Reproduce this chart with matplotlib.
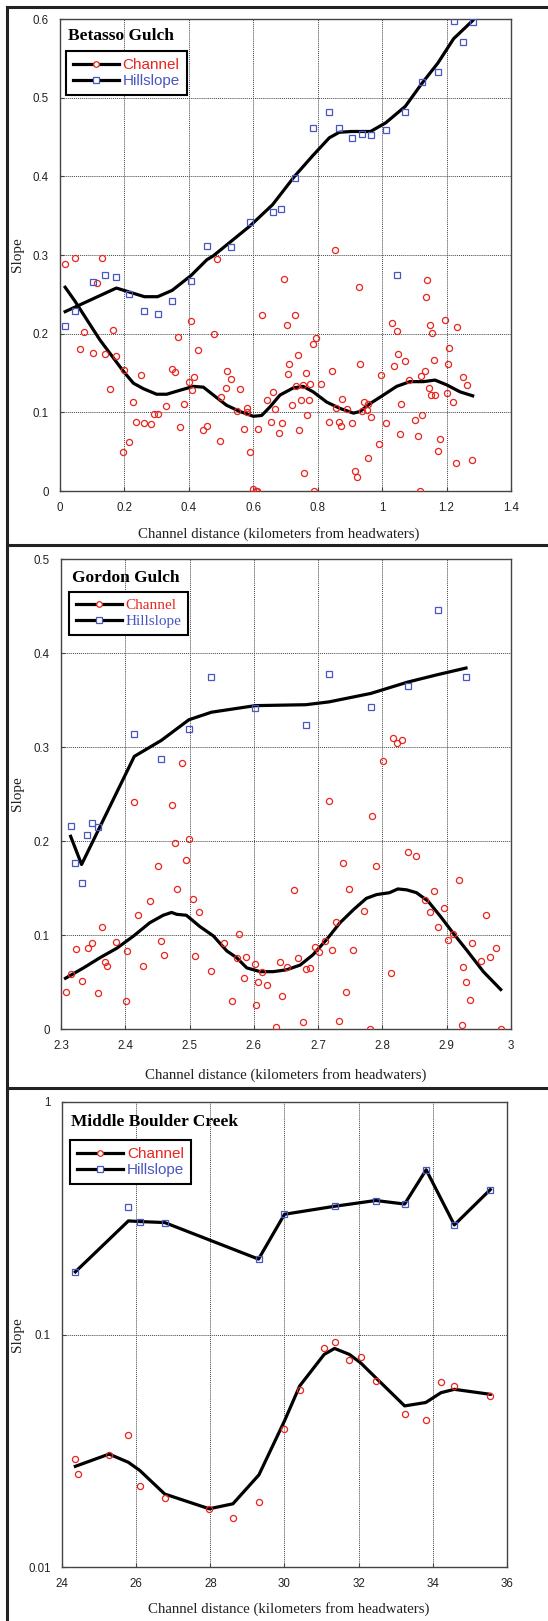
import matplotlib
matplotlib.use("Agg")
import matplotlib.pyplot as plt
import numpy as np
from matplotlib.lines import Line2D
from matplotlib.ticker import FixedLocator, NullLocator, FuncFormatter

# ---- Betasso Gulch ----
bg_hill_x = [0.016, 0.047, 0.102, 0.141, 0.175, 0.214, 0.262, 0.303, 0.348, 0.407,
             0.456, 0.532, 0.590, 0.660, 0.687, 0.728, 0.784, 0.836, 0.867, 0.905,
             0.938, 0.964, 1.011, 1.047, 1.072, 1.125, 1.173, 1.222, 1.251, 1.281]
bg_hill_y = [0.210, 0.229, 0.266, 0.275, 0.272, 0.251, 0.229, 0.225, 0.241, 0.267,
             0.311, 0.310, 0.342, 0.355, 0.358, 0.398, 0.461, 0.482, 0.461, 0.449,
             0.454, 0.453, 0.459, 0.275, 0.482, 0.520, 0.533, 0.598, 0.571, 0.596]
bg_hill_fit_x = [0.016, 0.175, 0.262, 0.303, 0.348, 0.407, 0.456, 0.476, 0.590, 0.660,
                 0.728, 0.784, 0.836, 0.867, 0.905, 0.964, 1.011, 1.072, 1.125, 1.173,
                 1.222, 1.281]
bg_hill_fit_y = [0.228, 0.258, 0.247, 0.247, 0.255, 0.274, 0.294, 0.299, 0.337, 0.364,
                 0.400, 0.426, 0.449, 0.456, 0.457, 0.457, 0.468, 0.489, 0.519, 0.544,
                 0.575, 0.598]
bg_chan_x = [0.016, 0.047, 0.129, 0.076, 0.116, 0.061, 0.102, 0.141, 0.166, 0.175,
             0.155, 0.199, 0.195, 0.214, 0.226, 0.236, 0.252, 0.262, 0.282, 0.293,
             0.303, 0.328, 0.348, 0.357, 0.365, 0.374, 0.384, 0.400, 0.407, 0.411,
             0.415, 0.428, 0.445, 0.456, 0.479, 0.486, 0.496, 0.499, 0.515, 0.519,
             0.532, 0.548, 0.559, 0.571, 0.580, 0.580, 0.591, 0.599, 0.608, 0.612,
             0.615, 0.627, 0.642, 0.654, 0.662, 0.666, 0.681, 0.688, 0.695, 0.705,
             0.708, 0.712, 0.720, 0.728, 0.733, 0.739, 0.742, 0.748, 0.753, 0.757,
             0.763, 0.768, 0.774, 0.776, 0.784, 0.789, 0.795, 0.809, 0.836, 0.843,
             0.853, 0.858, 0.867, 0.871, 0.876, 0.890, 0.905, 0.915, 0.923, 0.928,
             0.931, 0.936, 0.945, 0.952, 0.955, 0.957, 0.964, 0.991, 0.995, 1.011,
             1.031, 1.037, 1.047, 1.050, 1.054, 1.057, 1.071, 1.082, 1.102, 1.110,
             1.117, 1.120, 1.124, 1.132, 1.138, 1.137, 1.146, 1.150, 1.155, 1.152,
             1.161, 1.165, 1.172, 1.179, 1.196, 1.200, 1.203, 1.207, 1.221, 1.229,
             1.233, 1.250, 1.263, 1.280]
bg_chan_y = [0.289, 0.296, 0.296, 0.202, 0.264, 0.181, 0.176, 0.174, 0.205, 0.171,
             0.130, 0.154, 0.050, 0.062, 0.113, 0.088, 0.147, 0.086, 0.085, 0.098,
             0.098, 0.108, 0.155, 0.151, 0.196, 0.081, 0.111, 0.138, 0.216, 0.129,
             0.145, 0.179, 0.077, 0.082, 0.200, 0.295, 0.063, 0.119, 0.131, 0.153,
             0.143, 0.102, 0.130, 0.079, 0.100, 0.106, 0.049, 0.002, 0.000, 0.000,
             0.079, 0.224, 0.116, 0.088, 0.126, 0.104, 0.074, 0.087, 0.269, 0.211,
             0.149, 0.162, 0.109, 0.224, 0.134, 0.173, 0.078, 0.116, 0.135, 0.023,
             0.150, 0.097, 0.116, 0.136, 0.187, 0.000, 0.194, 0.136, 0.088, 0.152,
             0.306, 0.106, 0.088, 0.082, 0.117, 0.104, 0.086, 0.025, 0.018, 0.259,
             0.162, 0.102, 0.113, 0.103, 0.042, 0.110, 0.094, 0.060, 0.147, 0.086,
             0.213, 0.159, 0.203, 0.174, 0.072, 0.111, 0.165, 0.141, 0.090, 0.070,
             0.000, 0.146, 0.096, 0.153, 0.268, 0.247, 0.131, 0.211, 0.201, 0.122,
             0.167, 0.122, 0.051, 0.066, 0.217, 0.124, 0.161, 0.182, 0.113, 0.036,
             0.209, 0.145, 0.135, 0.040]
bg_chan_fit_x = [0.016, 0.047, 0.083, 0.124, 0.166, 0.197, 0.228, 0.259, 0.300, 0.331,
                 0.372, 0.414, 0.445, 0.476, 0.517, 0.559, 0.600, 0.626, 0.652, 0.683,
                 0.724, 0.755, 0.786, 0.828, 0.869, 0.911, 0.931, 0.962, 1.004, 1.045,
                 1.086, 1.128, 1.164, 1.200, 1.242, 1.281]
bg_chan_fit_y = [0.259, 0.241, 0.218, 0.192, 0.169, 0.152, 0.137, 0.130, 0.123, 0.123,
                 0.128, 0.133, 0.132, 0.122, 0.109, 0.101, 0.095, 0.096, 0.107, 0.122,
                 0.131, 0.133, 0.126, 0.113, 0.105, 0.099, 0.101, 0.111, 0.122, 0.133,
                 0.139, 0.139, 0.141, 0.135, 0.126, 0.121]

# ---- Gordon Gulch ----
gg_hill_x = [2.315, 2.322, 2.332, 2.341, 2.348, 2.357, 2.414, 2.456, 2.499, 2.534,
             2.602, 2.681, 2.717, 2.782, 2.839, 2.886, 2.930]
gg_hill_y = [0.216, 0.177, 0.155, 0.206, 0.219, 0.215, 0.314, 0.287, 0.319, 0.374,
             0.341, 0.323, 0.378, 0.343, 0.365, 0.446, 0.375]
gg_hill_fit_x = [2.315, 2.332, 2.414, 2.456, 2.499, 2.534, 2.602, 2.681, 2.717, 2.782,
                 2.839, 2.886, 2.930]
gg_hill_fit_y = [0.205, 0.175, 0.290, 0.307, 0.329, 0.337, 0.344, 0.345, 0.348, 0.357,
                 0.369, 0.377, 0.384]
gg_chan_x = [2.307, 2.315, 2.323, 2.332, 2.342, 2.348, 2.358, 2.364, 2.368, 2.371,
             2.386, 2.401, 2.402, 2.414, 2.420, 2.428, 2.438, 2.451, 2.456, 2.460,
             2.473, 2.478, 2.481, 2.494, 2.499, 2.505, 2.508, 2.514, 2.534, 2.554,
             2.566, 2.573, 2.577, 2.584, 2.587, 2.602, 2.604, 2.606, 2.613, 2.620,
             2.634, 2.640, 2.644, 2.651, 2.662, 2.668, 2.676, 2.681, 2.688, 2.695,
             2.702, 2.710, 2.717, 2.722, 2.728, 2.733, 2.739, 2.744, 2.748, 2.754,
             2.772, 2.780, 2.783, 2.790, 2.813, 2.840, 2.852, 2.866, 2.874, 2.880,
             2.886, 2.896, 2.902, 2.909, 2.919, 2.923, 2.926, 2.930, 2.936, 2.940,
             2.954, 2.961, 2.967, 2.976, 2.984, 2.488, 2.801, 2.817, 2.822, 2.830]
gg_chan_y = [0.039, 0.059, 0.085, 0.051, 0.086, 0.091, 0.038, 0.108, 0.071, 0.067,
             0.093, 0.030, 0.083, 0.241, 0.121, 0.067, 0.136, 0.173, 0.094, 0.079,
             0.238, 0.198, 0.149, 0.180, 0.202, 0.138, 0.078, 0.125, 0.062, 0.091,
             0.030, 0.076, 0.101, 0.054, 0.077, 0.069, 0.026, 0.050, 0.061, 0.047,
             0.002, 0.071, 0.035, 0.066, 0.148, 0.076, 0.007, 0.064, 0.065, 0.087,
             0.082, 0.094, 0.243, 0.084, 0.114, 0.008, 0.177, 0.039, 0.149, 0.084,
             0.126, 0.000, 0.227, 0.173, 0.060, 0.188, 0.184, 0.137, 0.125, 0.147,
             0.109, 0.129, 0.095, 0.101, 0.159, 0.004, 0.066, 0.050, 0.031, 0.091,
             0.072, 0.121, 0.077, 0.086, 0.000, 0.283, 0.285, 0.310, 0.304, 0.307]
gg_chan_fit_x = [2.307, 2.335, 2.361, 2.387, 2.413, 2.438, 2.459, 2.472, 2.480, 2.495,
                 2.516, 2.537, 2.558, 2.573, 2.589, 2.610, 2.630, 2.651, 2.672, 2.692,
                 2.713, 2.734, 2.755, 2.775, 2.791, 2.811, 2.824, 2.838, 2.853, 2.871,
                 2.890, 2.910, 2.931, 2.957, 2.984]
gg_chan_fit_y = [0.054, 0.065, 0.076, 0.086, 0.099, 0.113, 0.121, 0.124, 0.122, 0.121,
                 0.109, 0.099, 0.083, 0.076, 0.065, 0.061, 0.061, 0.063, 0.068, 0.079,
                 0.095, 0.113, 0.127, 0.139, 0.143, 0.145, 0.149, 0.148, 0.145, 0.136,
                 0.120, 0.102, 0.084, 0.061, 0.042]

# ---- Middle Boulder Creek ----
mb_hill_x = [24.36, 25.79, 26.11, 26.77, 29.30, 30.00, 31.35, 32.46, 33.24, 33.82, 34.58, 35.55]
mb_hill_y = [0.186, 0.354, 0.306, 0.303, 0.211, 0.329, 0.356, 0.377, 0.364, 0.511, 0.296, 0.420]
mb_hill_fit_x = [24.36, 25.79, 26.11, 26.77, 29.30, 30.00, 31.35, 32.46, 33.24, 33.82, 34.58, 35.55]
mb_hill_fit_y = [0.186, 0.308, 0.306, 0.303, 0.211, 0.329, 0.356, 0.377, 0.364, 0.511, 0.296, 0.420]
mb_chan_x = [24.36, 24.43, 25.27, 25.79, 26.10, 26.77, 27.97, 28.61, 29.31, 30.00,
             30.41, 31.07, 31.35, 31.75, 32.05, 32.46, 33.24, 33.81, 34.22, 34.58, 35.55]
mb_chan_y = [0.0292, 0.0251, 0.0304, 0.0368, 0.0222, 0.0199, 0.0178, 0.0162, 0.0190, 0.0392,
             0.0579, 0.0877, 0.0927, 0.0774, 0.0799, 0.0631, 0.0453, 0.0428, 0.0623, 0.0599, 0.0544]
mb_chan_fit_x = [24.36, 25.27, 25.79, 26.10, 26.77, 27.97, 28.61, 29.31, 30.00, 30.41,
                 31.07, 31.35, 31.75, 32.05, 32.46, 33.24, 33.81, 34.22, 34.58, 35.55]
mb_chan_fit_y = [0.0271, 0.0306, 0.0282, 0.0260, 0.0206, 0.0178, 0.0187, 0.0249, 0.0425, 0.0601,
                 0.0821, 0.0871, 0.0821, 0.0756, 0.0652, 0.0493, 0.0510, 0.0562, 0.0581, 0.0553]

RED = '#e8251f'
BLUE = '#4a56c0'
SANS = 'Liberation Sans'
SERIF = 'Liberation Serif'
W, H = 548, 1621

fig = plt.figure(figsize=(W / 100, H / 100), dpi=100)


def box(l, t, r, b):
    return [l / W, 1 - b / H, (r - l) / W, (b - t) / H]


def panel(rect, title, hx, hy, hfx, hfy, cx, cy, cfx, cfy, xlim, ylim, xticks, yticks,
          leg_font, leg_xy, title_xy, log=False):
    ax = fig.add_axes(rect)
    if log:
        ax.set_yscale('log')
    ax.plot(cfx, cfy, '-', color='black', lw=2.3, zorder=3)
    ax.plot(hfx, hfy, '-', color='black', lw=2.3, zorder=3)
    ax.plot(cx, cy, 'o', ms=4.4, mfc='none', mec=RED, mew=0.9, zorder=4)
    ax.plot(hx, hy, 's', ms=4.6, mfc='none', mec=BLUE, mew=0.9, zorder=4)
    ax.set_xlim(xlim)
    ax.set_ylim(ylim)
    ax.xaxis.set_major_locator(FixedLocator(xticks))
    ax.yaxis.set_major_locator(FixedLocator(yticks))
    ax.yaxis.set_minor_locator(NullLocator())
    fmt = FuncFormatter(lambda v, p: ('%g' % v))
    ax.xaxis.set_major_formatter(fmt)
    ax.yaxis.set_major_formatter(fmt)
    ax.grid(True, which='major', ls=(0, (1, 1)), color='#444444', lw=0.7)
    ax.tick_params(direction='in', length=3, color='#444444', labelsize=8.3, pad=8)
    for lab in ax.get_xticklabels() + ax.get_yticklabels():
        lab.set_family(SANS)
        lab.set_color('#222222')
    for s in ax.spines.values():
        s.set_color('#444444')
        s.set_linewidth(1.0)
    ax.text(title_xy[0], title_xy[1], title, transform=ax.transAxes, family=SERIF,
            fontweight='bold', fontsize=12.5, va='center', ha='left', zorder=6)
    handles = [Line2D([], [], color='black', lw=2.3, marker='o', ms=4, mfc='white',
                      mec=RED, mew=0.9),
               Line2D([], [], color='black', lw=2.3, marker='s', ms=4, mfc='white',
                      mec=BLUE, mew=0.9)]
    leg = ax.legend(handles, ['Channel', 'Hillslope'], loc='upper left',
                    bbox_to_anchor=leg_xy, borderaxespad=0, fancybox=False,
                    framealpha=1, edgecolor='black', handlelength=3.0,
                    handletextpad=0.25, labelspacing=0.15, borderpad=0.45,
                    prop={'family': leg_font, 'size': 11})
    leg.get_frame().set_linewidth(1.5)
    leg.set_zorder(7)
    leg.get_texts()[0].set_color(RED)
    leg.get_texts()[1].set_color(BLUE)
    ax.set_xlabel('Channel distance (kilometers from headwaters)', family=SERIF,
                  fontsize=10.7, color='#222222')
    ax.set_ylabel('Slope', family=SERIF, fontsize=11, color='#222222')
    return ax


ax1 = panel(box(60, 19, 511, 491), 'Betasso Gulch', bg_hill_x, bg_hill_y,
            bg_hill_fit_x, bg_hill_fit_y, bg_chan_x, bg_chan_y, bg_chan_fit_x, bg_chan_fit_y,
            (0, 1.4), (0, 0.6), [0, 0.2, 0.4, 0.6, 0.8, 1, 1.2, 1.4],
            [0, 0.1, 0.2, 0.3, 0.4, 0.5, 0.6], SANS, (0.013, 0.932), (0.018, 0.964))
ax1.xaxis.set_label_coords(0.485, -0.076)
ax1.yaxis.set_label_coords(-0.080, 0.5)

ax2 = panel(box(61, 559, 511, 1029), 'Gordon Gulch', gg_hill_x, gg_hill_y,
            gg_hill_fit_x, gg_hill_fit_y, gg_chan_x, gg_chan_y, gg_chan_fit_x, gg_chan_fit_y,
            (2.3, 3.0), (0, 0.5), [2.3, 2.4, 2.5, 2.6, 2.7, 2.8, 2.9, 3.0],
            [0, 0.1, 0.2, 0.3, 0.4, 0.5], SERIF, (0.018, 0.930), (0.024, 0.960))
ax2.xaxis.set_label_coords(0.5, -0.083)
ax2.yaxis.set_label_coords(-0.082, 0.5)

ax3 = panel(box(62, 1102, 507, 1567), 'Middle Boulder Creek', mb_hill_x, mb_hill_y,
            mb_hill_fit_x, mb_hill_fit_y, mb_chan_x, mb_chan_y, mb_chan_fit_x, mb_chan_fit_y,
            (24, 36), (0.01, 1), [24, 26, 28, 30, 32, 34, 36],
            [0.01, 0.1, 1], SANS, (0.019, 0.918), (0.021, 0.956), log=True)
ax3.xaxis.set_label_coords(0.51, -0.075)
ax3.yaxis.set_label_coords(-0.085, 0.5)

# outer frame and panel separators
lw = 2.2
fig.add_artist(Line2D([7 / W, 7 / W], [0, 1 - 7 / H], color='#222222', lw=lw))
for yy in [7, 545, 1088]:
    fig.add_artist(Line2D([7 / W, 1], [1 - yy / H, 1 - yy / H], color='#222222', lw=lw))

fig.savefig('out.png', dpi=100)
